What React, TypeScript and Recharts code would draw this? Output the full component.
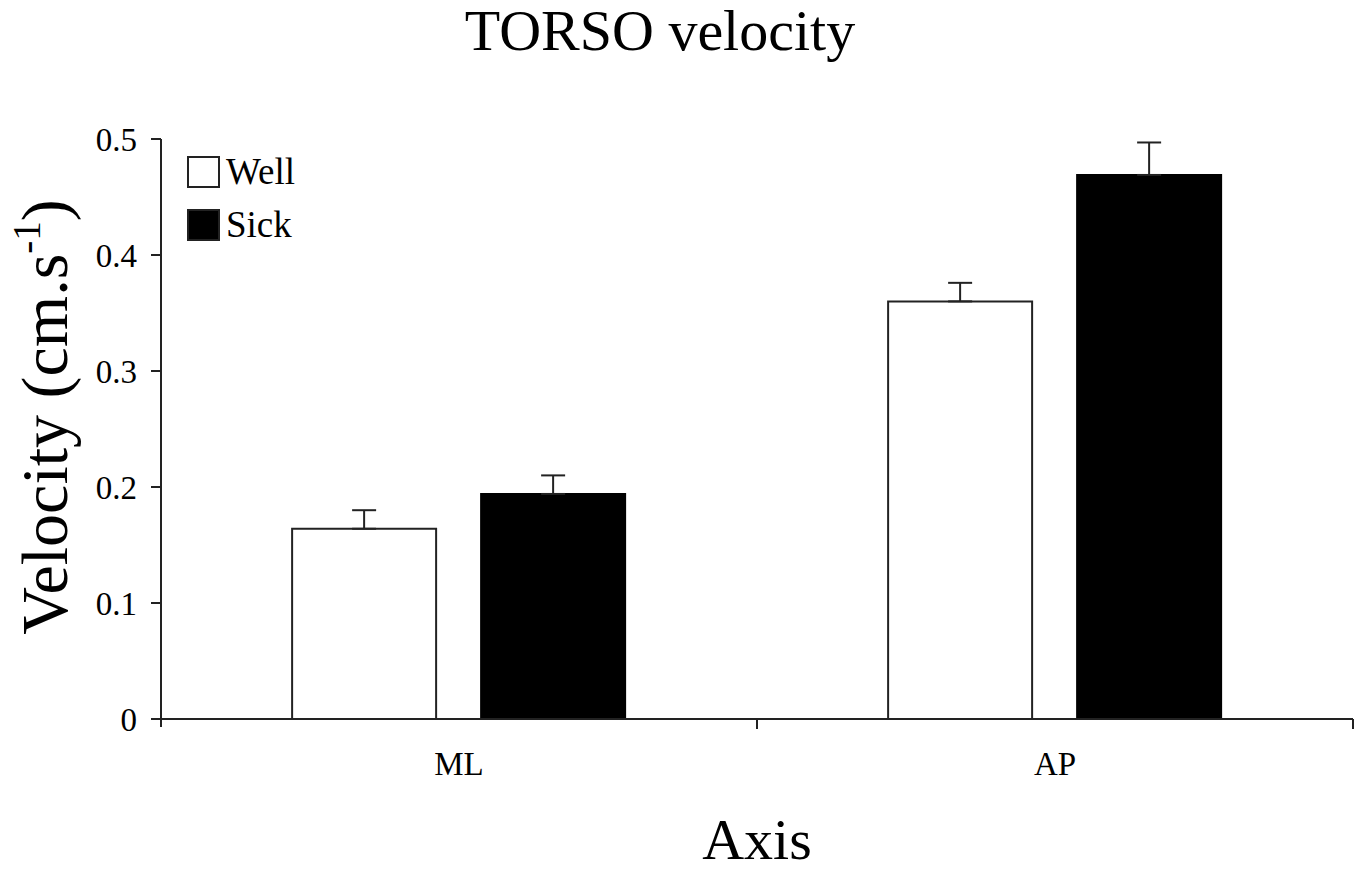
import {
  BarChart,
  Bar,
  XAxis,
  YAxis,
  ErrorBar,
  Legend,
  Label,
} from "recharts";

const categories = ["ML", "AP"];
const wellValues = [0.164, 0.36];
const wellErrors = [0.016, 0.016];
const sickValues = [0.194, 0.469];
const sickErrors = [0.016, 0.028];
const yTicks = [0, 0.1, 0.2, 0.3, 0.4, 0.5];

const FONT = '"Liberation Serif", "Times New Roman", serif';
const INK = "#222";
const X_TICK_SIZE = 6;
const X_TICK_MARGIN = 27;

const data = categories.map((name, i) => ({
  name,
  well: wellValues[i],
  wellErr: [0, wellErrors[i]],
  sick: sickValues[i],
  sickErr: [0, sickErrors[i]],
}));

const legendItems = [
  { label: "Well", fill: "#fff" },
  { label: "Sick", fill: "#000" },
];

function LegendBox() {
  return (
    <div style={{ fontFamily: FONT, fontSize: 37, color: "#000" }}>
      {legendItems.map((item) => (
        <div
          key={item.label}
          style={{ display: "flex", alignItems: "center", height: 53 }}
        >
          <span
            style={{
              width: 29,
              height: 28,
              background: item.fill,
              border: `2px solid ${INK}`,
              marginRight: 6,
            }}
          />
          <span>{item.label}</span>
        </div>
      ))}
    </div>
  );
}

// category label plus tick marks on the band edges
function CategoryTick({ x, y, payload, index }: any) {
  const axisY = y - X_TICK_SIZE - X_TICK_MARGIN;
  const half = payload && payload.offset ? payload.offset : 0;
  return (
    <g>
      {half > 0 && (
        <line
          x1={x + half}
          x2={x + half}
          y1={axisY}
          y2={axisY + 10}
          stroke={INK}
          strokeWidth={2}
        />
      )}
      {half > 0 && index === 0 && (
        <line
          x1={x - half}
          x2={x - half}
          y1={axisY}
          y2={axisY + 8}
          stroke={INK}
          strokeWidth={2}
        />
      )}
      <text
        x={x}
        y={y}
        dy="0.71em"
        textAnchor="middle"
        fontFamily={FONT}
        fontSize={33}
        fill="#000"
      >
        {payload.value}
      </text>
    </g>
  );
}

function YTitle({ viewBox }: any) {
  const x = viewBox.x + 6;
  const y = viewBox.y + viewBox.height / 2 - 12;
  return (
    <text
      x={x}
      y={y}
      transform={`rotate(-90, ${x}, ${y})`}
      textAnchor="middle"
      fontFamily={FONT}
      fontSize={66}
      fill="#000"
    >
      Velocity (cm.s
      <tspan fontSize={39} dy={-27}>
        -1
      </tspan>
      <tspan dy={27}>)</tspan>
    </text>
  );
}

export default function App() {
  return (
    <div
      style={{
        position: "absolute",
        left: 0,
        top: 0,
        width: 1363,
        height: 873,
        background: "#fff",
      }}
    >
      <div
        style={{
          position: "absolute",
          left: 0,
          width: 1320,
          top: -5,
          textAlign: "center",
          fontFamily: FONT,
          fontSize: 58,
          lineHeight: "72px",
          color: "#000",
          zIndex: 2,
        }}
      >
        TORSO velocity
      </div>
      <BarChart
        width={1363}
        height={873}
        data={data}
        margin={{ top: 139, right: 10, bottom: 0, left: 61 }}
        barCategoryGap="22%"
        barGap={45}
      >
        <XAxis
          dataKey="name"
          height={154}
          axisLine={{ stroke: INK, strokeWidth: 2 }}
          tickLine={false}
          tickSize={X_TICK_SIZE}
          tickMargin={X_TICK_MARGIN}
          tick={<CategoryTick />}
        >
          <Label
            value="Axis"
            position="insideBottom"
            offset={14}
            style={{ fontFamily: FONT, fontSize: 58, fill: "#000" }}
          />
        </XAxis>
        <YAxis
          width={100}
          domain={[0, 0.5]}
          ticks={yTicks}
          axisLine={{ stroke: INK, strokeWidth: 2 }}
          tickLine={{ stroke: INK, strokeWidth: 2 }}
          tickSize={10}
          tickMargin={14}
          tick={{ fill: "#000", fontSize: 33, fontFamily: FONT }}
        >
          <Label content={<YTitle />} />
        </YAxis>
        <Legend
          layout="horizontal"
          verticalAlign="middle"
          align="center"
          content={<LegendBox />}
          wrapperStyle={{ left: 187, top: 145, width: "auto", height: "auto" }}
        />
        <Bar
          dataKey="well"
          fill="#fff"
          stroke={INK}
          strokeWidth={2}
          isAnimationActive={false}
        >
          <ErrorBar dataKey="wellErr" width={12} stroke={INK} strokeWidth={2} />
        </Bar>
        <Bar
          dataKey="sick"
          fill="#000"
          stroke="#000"
          strokeWidth={2}
          isAnimationActive={false}
        >
          <ErrorBar dataKey="sickErr" width={12} stroke={INK} strokeWidth={2} />
        </Bar>
      </BarChart>
    </div>
  );
}
